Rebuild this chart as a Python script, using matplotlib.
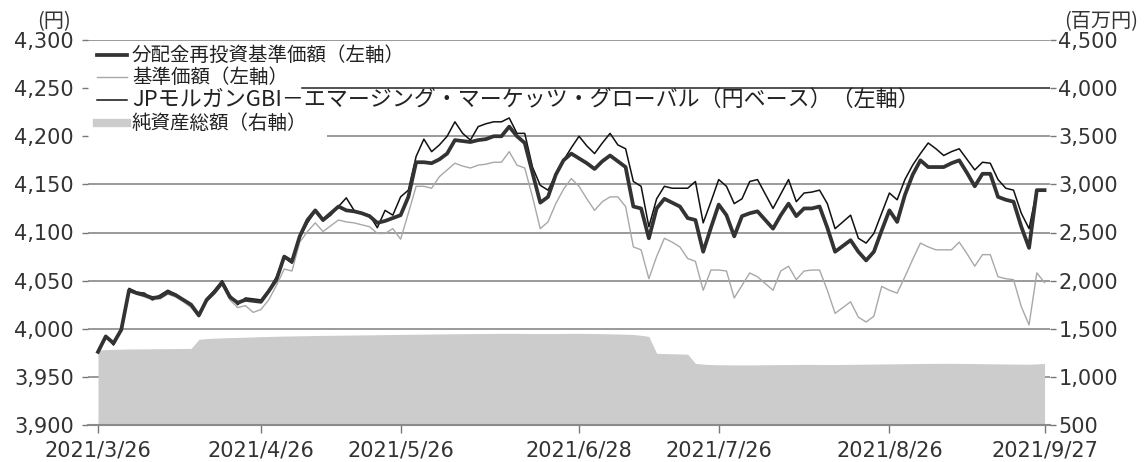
import matplotlib
matplotlib.use('Agg')
import matplotlib.pyplot as plt
from matplotlib.lines import Line2D
import numpy as np
import pandas as pd

plt.rcParams['font.family'] = ['DejaVu Sans', 'Noto Sans CJK JP']

# Japanese business days, 2021/3/26 - 2021/9/27
holidays = ['2021-04-29', '2021-05-03', '2021-05-04', '2021-05-05',
            '2021-07-22', '2021-07-23', '2021-08-09', '2021-09-20', '2021-09-23']
days = pd.bdate_range('2021-03-26', '2021-09-27', freq='C', holidays=holidays)
tick_dates = ['2021-03-26', '2021-04-26', '2021-05-26', '2021-06-28',
              '2021-07-26', '2021-08-26', '2021-09-27']

# 分配金再投資基準価額 (円)
nav_reinv = [3976, 3992, 3985, 3999, 4040, 4037, 4035, 4032, 4033, 4038,
             4035, 4030, 4025, 4014, 4030, 4038, 4048, 4033, 4027, 4030,
             4029, 4028, 4039, 4051, 4075, 4070, 4096, 4113, 4123, 4113,
             4120, 4127, 4123, 4122, 4120, 4117, 4110, 4112, 4115, 4118,
             4137, 4173, 4173, 4172, 4176, 4182, 4196, 4195, 4194, 4196,
             4197, 4200, 4200, 4210, 4200, 4193, 4162, 4131, 4137, 4160,
             4175, 4182, 4177, 4172, 4166, 4174, 4180, 4174, 4168, 4127,
             4125, 4094, 4125, 4135, 4131, 4127, 4115, 4113, 4080, 4105,
             4129, 4118, 4096, 4117, 4120, 4122, 4113, 4104, 4118, 4130,
             4117, 4125, 4125, 4127, 4105, 4080, 4086, 4092, 4080, 4071,
             4080, 4102, 4123, 4111, 4139, 4160, 4175, 4168, 4168, 4168,
             4172, 4175, 4162, 4148, 4161, 4161, 4137, 4134, 4132, 4106,
             4084, 4144, 4144]

# 基準価額 (円)
nav = [3976, 3992, 3985, 3999, 4040, 4036, 4033, 4030, 4031, 4036,
       4033, 4028, 4022, 4012, 4028, 4036, 4046, 4030, 4022, 4024,
       4017, 4020, 4030, 4045, 4062, 4060, 4090, 4101, 4110, 4101,
       4107, 4113, 4111, 4110, 4108, 4106, 4099, 4099, 4104, 4093,
       4120, 4148, 4148, 4146, 4158, 4165, 4172, 4169, 4167, 4170,
       4171, 4173, 4173, 4184, 4170, 4167, 4137, 4104, 4111, 4130,
       4145, 4156, 4148, 4135, 4123, 4132, 4137, 4137, 4127, 4085,
       4082, 4052, 4075, 4094, 4090, 4085, 4073, 4070, 4040, 4061,
       4061, 4060, 4032, 4045, 4058, 4054, 4047, 4040, 4060, 4065,
       4051, 4060, 4061, 4061, 4040, 4016, 4022, 4028, 4012, 4007,
       4013, 4044, 4040, 4037, 4054, 4072, 4089, 4085, 4082, 4082,
       4082, 4090, 4078, 4065, 4077, 4077, 4054, 4052, 4051, 4023,
       4004, 4058, 4048]

# JPモルガンGBI-EM グローバル (円ベース)
jpm_index = [3976, 3993, 3983, 4000, 4042, 4038, 4037, 4030, 4035, 4040,
             4036, 4030, 4024, 4013, 4031, 4040, 4050, 4035, 4025, 4032,
             4031, 4030, 4040, 4054, 4074, 4068, 4095, 4110, 4122, 4112,
             4118, 4127, 4136, 4123, 4120, 4118, 4105, 4123, 4118, 4137,
             4144, 4179, 4197, 4184, 4191, 4200, 4215, 4203, 4196, 4210,
             4213, 4215, 4215, 4219, 4203, 4203, 4168, 4149, 4144, 4160,
             4175, 4188, 4200, 4190, 4182, 4193, 4203, 4191, 4187, 4153,
             4148, 4106, 4135, 4148, 4146, 4146, 4146, 4153, 4110, 4132,
             4155, 4148, 4130, 4135, 4153, 4155, 4140, 4125, 4140, 4155,
             4132, 4141, 4142, 4144, 4130, 4104, 4111, 4118, 4094, 4089,
             4099, 4120, 4141, 4134, 4155, 4170, 4182, 4193, 4187, 4180,
             4184, 4187, 4176, 4165, 4173, 4172, 4155, 4146, 4144, 4120,
             4104, 4144, 4144]

# 純資産総額 (百万円)
net_assets = [1280, 1283, 1286, 1288, 1290, 1290, 1291, 1292, 1293, 1293,
              1294, 1295, 1296, 1390, 1398, 1402, 1405, 1408, 1410, 1412,
              1415, 1418, 1420, 1422, 1424, 1425, 1427, 1428, 1430, 1431,
              1432, 1433, 1434, 1435, 1436, 1437, 1438, 1439, 1440, 1441,
              1442, 1443, 1444, 1445, 1446, 1447, 1448, 1449, 1450, 1450,
              1451, 1451, 1452, 1452, 1452, 1451, 1450, 1450, 1450, 1450,
              1451, 1452, 1452, 1451, 1450, 1449, 1447, 1445, 1443, 1440,
              1432, 1420, 1245, 1242, 1240, 1238, 1236, 1140, 1132, 1128,
              1126, 1125, 1125, 1124, 1124, 1125, 1126, 1127, 1128, 1128,
              1129, 1130, 1130, 1129, 1128, 1128, 1129, 1130, 1131, 1132,
              1133, 1134, 1135, 1136, 1137, 1138, 1139, 1140, 1140, 1141,
              1141, 1140, 1139, 1138, 1137, 1136, 1135, 1134, 1133, 1132,
              1132, 1135, 1140]

left_ticks = [3900, 3950, 4000, 4050, 4100, 4150, 4200, 4250, 4300]
right_ticks = [500, 1000, 1500, 2000, 2500, 3000, 3500, 4000, 4500]

labels = ['分配金再投資基準価額（左軸）', '基準価額（左軸）',
          'JPモルガンGBI－エマージング・マーケッツ・グローバル（円ベース）（左軸）',
          '純資産総額（右軸）']

W, H = 1145, 462
fig = plt.figure(figsize=(W / 100, H / 100), dpi=100)
ax1 = fig.add_axes([88 / W, 1 - 425 / H, 962 / W, 385 / H])
ax2 = ax1.twinx()
ax1.set_zorder(ax2.get_zorder() + 1)
ax1.patch.set_visible(False)

x = np.arange(len(days))
pos = [days.get_loc(pd.Timestamp(d)) for d in tick_dates]
tick_labels = [pd.Timestamp(d).strftime('%Y/%-m/%-d') for d in tick_dates]

# gridlines + area on the lower (right) axis
grid = {}
for v in right_ticks[1:]:
    c, lw = ('#222222', 1.1) if v == 4000 else ('#9a9a9a', 1.4)
    grid[v] = ax2.axhline(v, color=c, lw=lw, zorder=1)
ax2.fill_between(x, 500, net_assets, color='#cccccc', lw=0, zorder=2)

ax1.plot(x, nav, color='#a8a8a8', lw=1.0)
ax1.plot(x, jpm_index, color='#111111', lw=1.1)
ax1.plot(x, nav_reinv, color='#333333', lw=2.7)

ax1.set_xlim(-1.29, 122.7)
ax1.set_ylim(3900, 4300)
ax2.set_ylim(500, 4500)

ax1.set_xticks(pos)
ax1.set_xticklabels(tick_labels)
ax1.set_yticks(left_ticks)
ax1.set_yticklabels([f'{v:,}' for v in left_ticks])
ax2.set_yticks(right_ticks)
ax2.set_yticklabels([f'{v:,}' for v in right_ticks])

for ax in (ax1, ax2):
    for s in ax.spines.values():
        s.set_visible(False)
ax1.spines['bottom'].set_visible(True)
ax1.spines['bottom'].set_color('#8a8a8a')
ax1.spines['bottom'].set_linewidth(1.5)

ax1.tick_params(axis='x', length=6, width=1, color='#777777', labelsize=15,
                labelcolor='#333333', pad=5)
ax1.tick_params(axis='y', length=4, width=1, color='#777777', labelsize=15,
                labelcolor='#333333', pad=6)
ax2.tick_params(axis='y', length=4, width=1, color='#777777', labelsize=15,
                labelcolor='#333333', pad=2)

fig.text(54 / W, 1 - 22 / H, '(円)', ha='center', va='center', fontsize=14.5,
         color='#333333', family=['Noto Sans CJK JP'])
fig.text(1101 / W, 1 - 22 / H, '(百万円)', ha='center', va='center', fontsize=14.5,
         color='#333333', family=['Noto Sans CJK JP'])

# legend rows drawn by hand
handles = [dict(color='#333333', lw=2.7), dict(color='#a8a8a8', lw=1.0),
           dict(color='#111111', lw=1.1), dict(color='#cccccc', lw=6)]
row_y = [55, 77, 100, 123]
row_size = [14, 14, 15.8, 14]
texts = []
for lab, hd, ry, fs in zip(labels, handles, row_y, row_size):
    yf = 1 - ry / H
    fig.add_artist(Line2D([97 / W, 127 / W], [yf, yf], **hd))
    texts.append(fig.text(132 / W, yf, lab, ha='left', va='center', fontsize=fs,
                          color='#222222', family=['Noto Sans CJK JP']))

# gridlines hidden behind legend rows
fig.canvas.draw()
r = fig.canvas.get_renderer()
for v, t, gap in ((4000, texts[1], 14), (3500, texts[3], 20)):
    xe = t.get_window_extent(r).x1 + gap
    grid[v].set_xdata([(xe - 88) / 962, 1])

fig.savefig('out.png', dpi=100)
